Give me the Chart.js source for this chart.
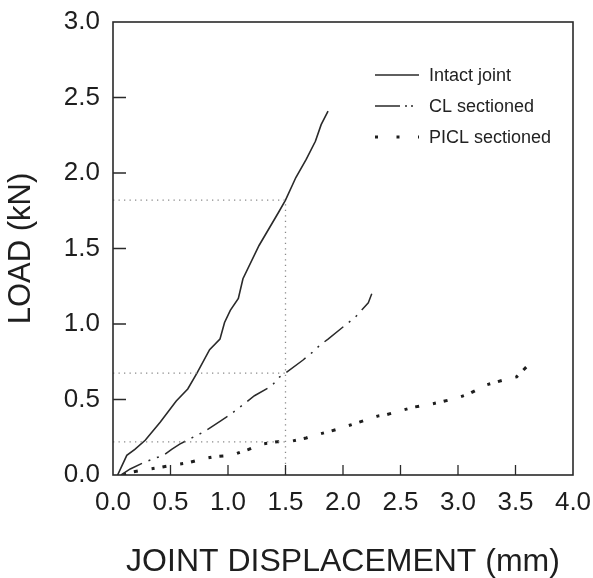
<!DOCTYPE html>
<html>
<head>
<meta charset="utf-8">
<script src="https://cdn.jsdelivr.net/npm/chart.js@4"></script>
<style>
  html, body { margin: 0; padding: 0; background: #fff; }
  #wrap { width: 593px; height: 578px; }
</style>
</head>
<body>
<div id="wrap"><canvas id="chart" width="593" height="578"></canvas></div>
<script>
// Load vs joint displacement — three test conditions

const intactX = [0.04, 0.12, 0.19, 0.28, 0.41, 0.55, 0.65, 0.73, 0.84, 0.93, 0.97, 1.02, 1.09, 1.13, 1.27, 1.44, 1.50, 1.59, 1.68, 1.76, 1.81, 1.87];
const intactY = [0, 0.13, 0.17, 0.23, 0.35, 0.49, 0.57, 0.675, 0.83, 0.90, 1.01, 1.09, 1.17, 1.30, 1.52, 1.74, 1.82, 1.97, 2.09, 2.21, 2.32, 2.41];

const clX = [0.07, 0.15, 0.26, 0.36, 0.44, 0.51, 0.58, 0.67, 0.80, 0.94, 1.02, 1.23, 1.38, 1.45, 1.50, 1.65, 1.73, 1.80, 1.87, 2.00, 2.10, 2.16, 2.22, 2.25];
const clY = [0, 0.04, 0.08, 0.11, 0.13, 0.17, 0.205, 0.24, 0.29, 0.36, 0.40, 0.525, 0.59, 0.65, 0.675, 0.76, 0.81, 0.86, 0.90, 0.98, 1.04, 1.09, 1.14, 1.20];

const piclX = [0.09, 0.17, 0.32, 0.41, 0.55, 0.65, 0.80, 0.87, 1.03, 1.18, 1.29, 1.43, 1.53, 1.68, 1.74, 1.89, 1.98, 2.14, 2.30, 2.38, 2.52, 2.62, 2.77, 2.86, 2.99, 3.09, 3.24, 3.42, 3.51, 3.60];
const piclY = [0, 0.02, 0.04, 0.05, 0.07, 0.08, 0.11, 0.12, 0.13, 0.17, 0.205, 0.22, 0.22, 0.245, 0.26, 0.29, 0.31, 0.35, 0.39, 0.40, 0.43, 0.45, 0.47, 0.485, 0.51, 0.535, 0.595, 0.635, 0.65, 0.72];

// dotted guide lines at 1.5 mm
const guideX = 1.5;
const guideLoads = [1.82, 0.675, 0.22];

const seriesLabels = ["Intact joint", "CL sectioned", "PICL sectioned"];
const xTicks = [0, 0.5, 1, 1.5, 2, 2.5, 3, 3.5, 4];
const yTicks = [0, 0.5, 1, 1.5, 2, 2.5, 3];

const FONT = "'Liberation Sans', Arial, Helvetica, sans-serif";
const INK = "#2a2a2a";

const pts = (xs, ys) => xs.map((x, i) => ({ x: x, y: ys[i] }));

const guideStyle = {
  borderColor: "#8a8a8a",
  borderWidth: 1.3,
  borderDash: [1.3, 4.2],
  pointRadius: 0,
  showLine: true,
  noLegend: true
};
const guideSets = guideLoads.map(v => Object.assign({
  data: [{ x: 0, y: v }, { x: guideX, y: v }]
}, guideStyle));
guideSets.push(Object.assign({
  data: [{ x: guideX, y: 0 }, { x: guideX, y: guideLoads[0] }]
}, guideStyle));

const datasets = guideSets.concat([
  {
    label: seriesLabels[0],
    data: pts(intactX, intactY),
    borderColor: INK,
    borderWidth: 1.6,
    pointRadius: 0,
    showLine: true,
    legendDash: []
  },
  {
    label: seriesLabels[1],
    data: pts(clX, clY),
    borderColor: INK,
    borderWidth: 1.5,
    borderDash: [24, 7, 2, 7, 2, 7],
    pointRadius: 0,
    showLine: true,
    legendDash: [25, 5, 2, 4, 2, 40]
  },
  {
    label: seriesLabels[2],
    data: pts(piclX, piclY),
    borderColor: "#1e1e1e",
    borderWidth: 3,
    borderDash: [3, 8, 4, 14],
    pointRadius: 0,
    showLine: true,
    legendDash: [3, 18.5]
  }
]);

// inward tick marks + full frame
const framePlugin = {
  id: "frame",
  afterDatasetsDraw(chart) {
    const { ctx, chartArea: a, scales } = chart;
    ctx.save();
    ctx.strokeStyle = INK;
    ctx.lineWidth = 1.3;
    ctx.beginPath();
    scales.x.ticks.forEach(t => {
      if (t.value <= 0 || t.value >= 4) return;
      const px = scales.x.getPixelForValue(t.value);
      ctx.moveTo(px, a.bottom);
      ctx.lineTo(px, a.bottom - 10);
    });
    scales.y.ticks.forEach(t => {
      if (t.value <= 0 || t.value >= 3) return;
      const py = scales.y.getPixelForValue(t.value);
      ctx.moveTo(a.left, py);
      ctx.lineTo(a.left + 13, py);
    });
    ctx.stroke();
    ctx.lineWidth = 1.6;
    ctx.strokeRect(a.left, a.top, a.right - a.left, a.bottom - a.top);
    ctx.restore();
  }
};

// legend drawn inside the plot, top right
const legendPlugin = {
  id: "insideLegend",
  afterDraw(chart) {
    const ctx = chart.ctx;
    let row = 0;
    ctx.save();
    ctx.font = "18px " + FONT;
    ctx.textBaseline = "middle";
    chart.data.datasets.forEach(ds => {
      if (ds.noLegend) return;
      const y = 75 + row * 31;
      ctx.strokeStyle = ds.borderColor;
      ctx.lineWidth = ds.borderWidth;
      ctx.setLineDash(ds.legendDash || []);
      ctx.beginPath();
      ctx.moveTo(375, y);
      ctx.lineTo(419, y);
      ctx.stroke();
      ctx.setLineDash([]);
      ctx.fillStyle = "#222";
      ctx.fillText(ds.label, 429, y + 1);
      row++;
    });
    ctx.restore();
  }
};

new Chart(document.getElementById("chart"), {
  type: "scatter",
  data: { datasets: datasets },
  options: {
    responsive: false,
    animation: false,
    layout: { padding: { left: 0, right: 20, top: 22, bottom: 0 } },
    plugins: {
      legend: { display: false },
      tooltip: { enabled: false }
    },
    scales: {
      x: {
        type: "linear",
        min: 0,
        max: 4,
        afterBuildTicks: s => { s.ticks = xTicks.map(v => ({ value: v })); },
        afterFit: s => { s.height = 103; s.paddingLeft = 0; s.paddingRight = 0; },
        grid: { display: false, drawTicks: false },
        border: { display: false },
        ticks: {
          padding: 12,
          color: "#1e1e1e",
          font: { family: FONT, size: 26 },
          callback: v => Number(v).toFixed(1)
        },
        title: {
          display: true,
          text: "JOINT DISPLACEMENT (mm)",
          color: "#1e1e1e",
          font: { family: FONT, size: 32, lineHeight: 1 },
          padding: { top: 0, bottom: 0 }
        }
      },
      y: {
        type: "linear",
        min: 0,
        max: 3,
        afterBuildTicks: s => { s.ticks = yTicks.map(v => ({ value: v })); },
        afterFit: s => { s.width = 113; s.paddingTop = 0; s.paddingBottom = 0; },
        grid: { display: false, drawTicks: false },
        border: { display: false },
        ticks: {
          padding: 13,
          color: "#1e1e1e",
          font: { family: FONT, size: 26 },
          callback: v => Number(v).toFixed(1)
        },
        title: {
          display: true,
          text: "LOAD (kN)",
          color: "#1e1e1e",
          font: { family: FONT, size: 31, lineHeight: 1 },
          padding: { top: 6, bottom: 0 }
        }
      }
    }
  },
  plugins: [framePlugin, legendPlugin]
});
</script>
</body>
</html>
